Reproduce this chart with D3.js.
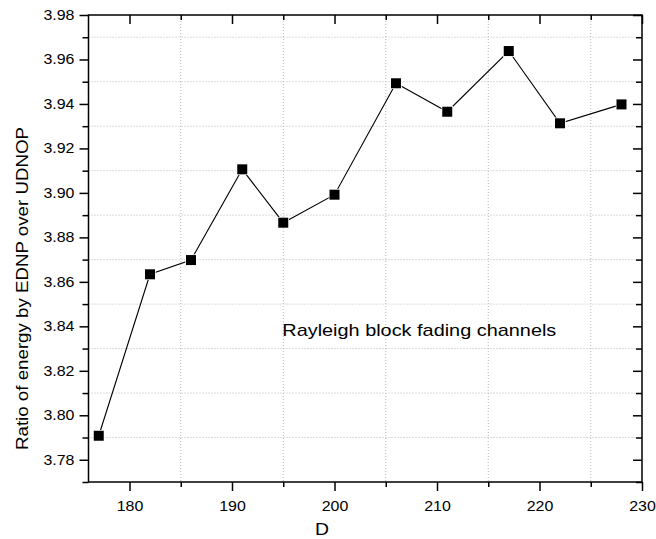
<!DOCTYPE html>
<html>
<head>
<meta charset="utf-8">
<script src="https://cdn.jsdelivr.net/npm/d3@7"></script>
<style>
  body { margin: 0; background: #fff; }
  text { font-family: "Liberation Sans", Arial, sans-serif; fill: #000; }
</style>
</head>
<body>
<div id="chart"></div>
<script>
const dValues = [177, 182, 186, 191, 195, 200, 206, 211, 217, 222, 228];
const ratioValues = [3.7908, 3.8634, 3.8698, 3.9106, 3.8866, 3.8992, 3.9493, 3.9365, 3.9638, 3.9313, 3.9398];
const xTicks = [180, 190, 200, 210, 220, 230];
const xMinor = [185, 195, 205, 215, 225];
const yTicks = [3.78, 3.80, 3.82, 3.84, 3.86, 3.88, 3.90, 3.92, 3.94, 3.96, 3.98];
const yMinor = [3.77, 3.79, 3.81, 3.83, 3.85, 3.87, 3.89, 3.91, 3.93, 3.95, 3.97];

const W = 656, H = 539;
const margin = {top: 15, right: 14, bottom: 57, left: 88.5};
const width = W - margin.left - margin.right,
      height = H - margin.top - margin.bottom;
const stretch = 1.14; // the original's text is a bit wider than Arial

const svg = d3.select("#chart").append("svg")
    .attr("width", W).attr("height", H);
const g = svg.append("g")
    .attr("transform", "translate(" + margin.left + "," + margin.top + ")");

const x = d3.scaleLinear().domain([176, 230]).range([0, width]);
const y = d3.scaleLinear().domain([3.77, 3.98]).range([height, 0]);

function widen(sel, k) {
  sel.each(function() {
    const len = this.getComputedTextLength();
    d3.select(this).attr("textLength", len * k).attr("lengthAdjust", "spacingAndGlyphs");
  });
}

// dotted grid at the minor positions
g.selectAll(".vgrid").data(xMinor).enter().append("line")
    .attr("x1", d => x(d)).attr("x2", d => x(d))
    .attr("y1", 0).attr("y2", height)
    .attr("stroke", "#b8b8b8").attr("stroke-width", 1)
    .attr("stroke-dasharray", "1,2");
g.selectAll(".hgrid").data(yMinor.filter(v => v > 3.775)).enter().append("line")
    .attr("x1", 0).attr("x2", width)
    .attr("y1", d => y(d)).attr("y2", d => y(d))
    .attr("stroke", "#b8b8b8").attr("stroke-width", 1)
    .attr("stroke-dasharray", "1,2");

// axes: bottom/left outward, top/right inward
function styleAxis(sel) {
  sel.select(".domain").remove();
  sel.selectAll("line").attr("stroke", "#000").attr("stroke-width", 1.5);
  sel.selectAll("text").style("font-size", "14px")
     .style("font-family", "'Liberation Sans', Arial, sans-serif")
     .call(widen, stretch);
}

const gx = g.append("g").attr("transform", "translate(0," + height + ")")
    .call(d3.axisBottom(x).tickValues(xTicks).tickFormat(d3.format("d")).tickSize(9).tickPadding(10));
styleAxis(gx);
const gxm = g.append("g").attr("transform", "translate(0," + height + ")")
    .call(d3.axisBottom(x).tickValues(xMinor).tickFormat("").tickSize(5));
styleAxis(gxm);

const gy = g.append("g")
    .call(d3.axisLeft(y).tickValues(yTicks).tickFormat(d3.format(".2f")).tickSize(9).tickPadding(5));
styleAxis(gy);
const gym = g.append("g")
    .call(d3.axisLeft(y).tickValues(yMinor).tickFormat("").tickSize(6));
styleAxis(gym);

const gt = g.append("g")
    .call(d3.axisBottom(x).tickValues(xTicks).tickFormat("").tickSize(9));
styleAxis(gt);
const gtm = g.append("g")
    .call(d3.axisBottom(x).tickValues(xMinor).tickFormat("").tickSize(5));
styleAxis(gtm);

const gr = g.append("g").attr("transform", "translate(" + width + ",0)")
    .call(d3.axisLeft(y).tickValues(yTicks).tickFormat("").tickSize(9));
styleAxis(gr);
const grm = g.append("g").attr("transform", "translate(" + width + ",0)")
    .call(d3.axisLeft(y).tickValues(yMinor).tickFormat("").tickSize(6));
styleAxis(grm);

// frame
g.append("rect")
    .attr("x", 0).attr("y", 0).attr("width", width).attr("height", height)
    .attr("fill", "none").attr("stroke", "#000").attr("stroke-width", 1.5);

const points = dValues.map((d, i) => ({d: d, r: ratioValues[i]}));

g.append("path")
    .datum(points)
    .attr("fill", "none")
    .attr("stroke", "#000")
    .attr("stroke-width", 1.1)
    .attr("d", d3.line().x(p => x(p.d)).y(p => y(p.r)));

const ms = 10;
g.selectAll(".pt").data(points).enter().append("rect")
    .attr("x", p => x(p.d) - ms / 2)
    .attr("y", p => y(p.r) - ms / 2)
    .attr("width", ms).attr("height", ms)
    .attr("fill", "#000")
    .attr("stroke", "#fff").attr("stroke-width", 1.5)
    .attr("paint-order", "stroke");

// labels
svg.append("text")
    .attr("x", 322).attr("y", 535)
    .attr("text-anchor", "middle")
    .style("font-size", "17px")
    .text("D")
    .call(widen, stretch);

svg.append("text")
    .attr("transform", "translate(28,288.5) rotate(-90)")
    .attr("text-anchor", "middle")
    .style("font-size", "17px")
    .attr("textLength", 323).attr("lengthAdjust", "spacingAndGlyphs")
    .text("Ratio of energy by EDNP over UDNOP");

svg.append("text")
    .attr("x", 282.3).attr("y", 335.5)
    .style("font-size", "17px")
    .attr("textLength", 274).attr("lengthAdjust", "spacingAndGlyphs")
    .text("Rayleigh block fading channels");
</script>
</body>
</html>
